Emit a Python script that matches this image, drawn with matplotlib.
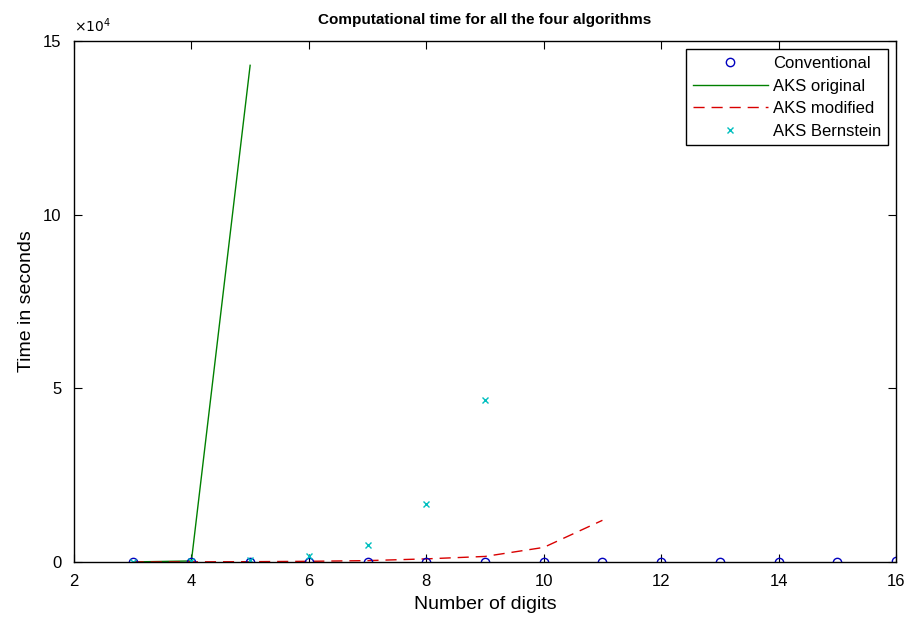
import matplotlib
matplotlib.use('Agg')
import matplotlib.pyplot as plt
from matplotlib.ticker import FuncFormatter

plt.rcParams['font.family'] = ['Liberation Sans', 'DejaVu Sans']

digits_conv = [3, 4, 5, 6, 7, 8, 9, 10, 11, 12, 13, 14, 15, 16]
time_conv = [1, 1, 2, 3, 5, 8, 12, 20, 30, 45, 60, 80, 110, 150]

digits_orig = [3, 4, 5]
time_orig = [20, 300, 143000]

digits_mod = [3, 4, 5, 6, 7, 8, 9, 10, 11]
time_mod = [10, 40, 90, 200, 400, 900, 1600, 4200, 12000]

digits_bern = [3, 4, 5, 6, 7, 8, 9]
time_bern = [30, 150, 500, 1600, 4900, 16700, 46600]

fig = plt.figure(figsize=(9.09, 6.25), dpi=100)
ax = fig.add_axes([0.0814, 0.1008, 0.9043, 0.8336])

ax.plot(digits_orig, time_orig, '-', color=(0, 0.5, 0), linewidth=1.0, label='AKS original')
ax.plot(digits_mod, time_mod, '--', color=(0.85, 0, 0), linewidth=1.0,
        dashes=(8, 5), label='AKS modified')
ax.plot(digits_conv, time_conv, 'o', color=(0, 0, 0.75), markerfacecolor='none',
        markersize=6, markeredgewidth=1.0, label='Conventional')
ax.plot(digits_bern, time_bern, 'x', color=(0, 0.75, 0.75), markersize=5,
        markeredgewidth=1.0, label='AKS Bernstein')

ax.set_xlim(2, 16)
ax.set_ylim(0, 150000)
ax.set_xticks([2, 4, 6, 8, 10, 12, 14, 16])
ax.set_yticks([0, 50000, 100000, 150000])
ax.yaxis.set_major_formatter(FuncFormatter(lambda v, p: '%d' % round(v / 1e4)))
ax.text(0.0, 1.012, r'$\times 10^4$', transform=ax.transAxes, fontsize=10,
        ha='left', va='bottom')
ax.tick_params(direction='in', top=True, right=True, labelsize=12, length=6)
ax.tick_params(axis='x', pad=9)
ax.tick_params(axis='y', pad=9)
for s in ax.spines.values():
    s.set_linewidth(1.0)

ax.set_title('Computational time for all the four algorithms', fontsize=11,
             fontweight='bold', pad=12)
ax.set_xlabel('Number of digits', fontsize=14, labelpad=5)
ax.set_ylabel('Time in seconds', fontsize=14, labelpad=6)

h, l = ax.get_legend_handles_labels()
order = [2, 0, 1, 3]
leg = ax.legend([h[i] for i in order], [l[i] for i in order], loc='upper right',
                fontsize=12, fancybox=False, edgecolor='black', framealpha=1,
                borderaxespad=0.5, handlelength=4.5, handletextpad=0.3,
                labelspacing=0.45)
leg.get_frame().set_linewidth(1.0)

plt.savefig('out.png', dpi=100)
